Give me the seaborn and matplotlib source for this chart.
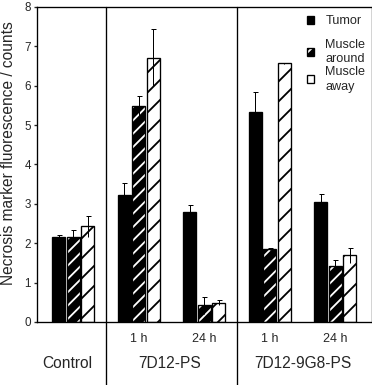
import matplotlib
matplotlib.use('Agg')
import matplotlib.pyplot as plt
import matplotlib.transforms as mtransforms
from matplotlib.patches import Patch, Rectangle
import seaborn as sns
import pandas as pd

# values
conditions = ['Control', '7D12-PS 1 h', '7D12-PS 24 h', '7D12-9G8-PS 1 h', '7D12-9G8-PS 24 h']
time_labels = ['', '1 h', '24 h', '1 h', '24 h']
groups = ['Control', '7D12-PS', '7D12-9G8-PS']
group_centers = [-0.09, 1.47, 3.5]
tissues = ['Tumor', 'Muscle around', 'Muscle away']
legend_labels = ['Tumor', 'Muscle\naround', 'Muscle\naway']

tumor = [2.17, 3.23, 2.80, 5.34, 3.05]
tumor_err = [0.03, 0.31, 0.18, 0.49, 0.20]
around = [2.15, 5.48, 0.42, 1.85, 1.42]
around_err = [0.18, 0.25, 0.22, 0.03, 0.16]
away = [2.43, 6.71, 0.49, 6.57, 1.69]
away_err = [0.27, 0.72, 0.07, 0.02, 0.20]

values = [tumor, around, away]
errors = [tumor_err, around_err, away_err]

df = pd.DataFrame({
    'condition': conditions * 3,
    'tissue': [t for t in tissues for _ in conditions],
    'value': tumor + around + away,
})

sns.set_style('ticks')
plt.rcParams['font.family'] = ['Liberation Sans', 'DejaVu Sans']
plt.rcParams['hatch.linewidth'] = 1.1

fig = plt.figure(figsize=(3.1, 385 / 120), dpi=120)
ax = fig.add_axes([37 / 372, 1 - 322 / 385, 334.5 / 372, 315 / 385])

sns.barplot(data=df, x='condition', y='value', hue='tissue', order=conditions,
            hue_order=tissues, width=0.66, gap=0.1, errorbar=None,
            legend=False, ax=ax)

# bar styles
for cont, tissue in zip(ax.containers, tissues):
    for bar in cont:
        if tissue == 'Tumor':
            bar.set_facecolor('black')
            bar.set_edgecolor('black')
            bar.set_linewidth(0.8)
        elif tissue == 'Muscle around':
            bar.set_facecolor('black')
            bar.set_edgecolor('white')
            bar.set_hatch('///')
            bar.set_linewidth(0)
            ax.add_patch(Rectangle(bar.get_xy(), bar.get_width(), bar.get_height(),
                                   fill=False, edgecolor='black', linewidth=0.8,
                                   zorder=bar.get_zorder() + 0.1))
        else:
            bar.set_facecolor('white')
            bar.set_edgecolor('black')
            bar.set_hatch('//')
            bar.set_linewidth(0.8)

# error bars (caps only on top)
for cont, vals, errs in zip(ax.containers, values, errors):
    xs = [b.get_x() + b.get_width() / 2 for b in cont]
    ax.errorbar(xs, vals, yerr=errs, fmt='none', ecolor='black', elinewidth=0.6,
                capsize=0, zorder=5)
    ax.plot(xs, [v + e for v, e in zip(vals, errs)], ls='none', marker='_', ms=3,
            mew=0.6, color='black', zorder=5)

ax.set_ylim(0, 8)
ax.set_yticks(range(9))
ax.tick_params(axis='y', labelsize=7, length=2, width=0.8, pad=1.5)
ax.set_xticks(range(len(conditions)))
ax.set_xticklabels(time_labels)
ax.tick_params(axis='x', labelsize=7.5, length=0, pad=6.5)
ax.set_xlabel('')
ax.set_ylabel('Necrosis marker fluorescence / counts', fontsize=9.3)
ax.yaxis.set_label_coords(-0.062, 0.535)

for sp in ax.spines.values():
    sp.set_visible(True)
    sp.set_linewidth(0.8)
    sp.set_color('black')

trans = mtransforms.blended_transform_factory(ax.transData, ax.transAxes)
for x in [0.5, 2.5]:
    ax.plot([x, x], [1, -0.25], transform=trans, color='black', lw=0.8, clip_on=False)

for c, g in zip(group_centers, groups):
    ax.text(c, -0.146, g, transform=trans, ha='center', va='baseline', fontsize=9.3)

handles = [
    Patch(facecolor='black', edgecolor='black', linewidth=0.8),
    (Patch(facecolor='black', edgecolor='white', hatch='///', linewidth=0),
     Patch(fill=False, edgecolor='black', linewidth=0.8)),
    Patch(facecolor='white', edgecolor='black', hatch='//', linewidth=0.8),
]
leg_kw = dict(loc='upper left', bbox_transform=fig.transFigure, frameon=False,
              fontsize=7.6, handlelength=0.56, handleheight=0.56, handletextpad=0.9,
              labelspacing=0.05, borderpad=0, borderaxespad=0)
# the single-line Tumor entry sits a bit further from the two-line entries
leg1 = ax.legend(handles[:1], legend_labels[:1], bbox_to_anchor=(0.825, 0.96), **leg_kw)
ax.add_artist(leg1)
leg2 = ax.legend(handles[1:], legend_labels[1:], bbox_to_anchor=(0.825, 0.9), **leg_kw)
for t in leg2.get_texts():
    t.set_linespacing(1.3)

fig.savefig('out.png', dpi=120)
